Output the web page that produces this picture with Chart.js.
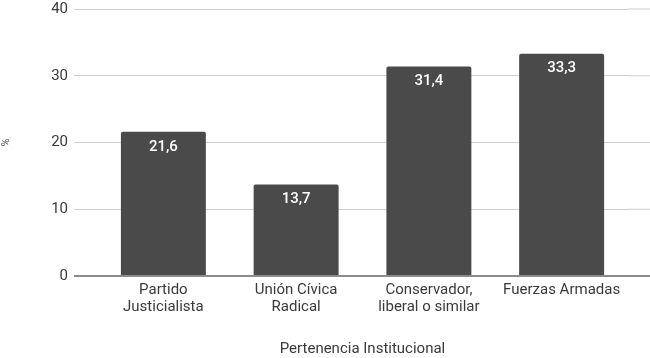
<!DOCTYPE html>
<html>
<head>
<meta charset="utf-8">
<style>
  html, body { margin: 0; padding: 0; background: #fff; }
  #wrap { width: 650px; height: 358px; }
</style>
<script src="https://cdn.jsdelivr.net/npm/chart.js@4/dist/chart.umd.min.js"></script>
</head>
<body>
<div id="wrap"><canvas id="chart"></canvas></div>
<script>
'use strict';

// ─── DATA ────────────────────────────────────────────────────────────────────

const categories = [
  ['Partido', 'Justicialista'],
  ['Unión Cívica', 'Radical'],
  ['Conservador,', 'liberal o similar'],
  ['Fuerzas Armadas'],
];
const values    = [21.6, 13.7, 31.4, 33.3];
const yTicks    = [0, 10, 20, 30, 40];
const xTitle    = 'Pertenencia Institucional';
const yTitle    = '%';

// ─── STYLE ───────────────────────────────────────────────────────────────────

const FONT     = 'Roboto, "Liberation Sans", Arial, sans-serif';
const BAR      = '#4a4a4a';
const GRID     = '#cfcfcf';
const ZERO     = '#8c8c8c';
const TEXT     = '#3a3a3a';

const gridColor = ctx => (ctx.tick && ctx.tick.value === 0 ? ZERO : GRID);
const gridWidth = ctx => (ctx.tick && ctx.tick.value === 0 ? 2 : 1);

// Etiquetas de valor dentro de cada barra
const valueLabels = {
  id: 'valueLabels',
  afterDatasetsDraw(chart) {
    const { ctx } = chart;
    const meta = chart.getDatasetMeta(0);
    ctx.save();
    ctx.fillStyle = '#ffffff';
    ctx.font = `500 15px ${FONT}`;
    ctx.textAlign = 'center';
    ctx.textBaseline = 'middle';
    meta.data.forEach((bar, i) => {
      const txt = values[i].toFixed(1).replace('.', ',');
      ctx.fillText(txt, bar.x, bar.y + 15);
    });
    ctx.restore();
  },
};

// Prolonga as linhas de grade até a borda direita
const gridExtend = {
  id: 'gridExtend',
  beforeDatasetsDraw(chart) {
    const { ctx, chartArea, width } = chart;
    const y = chart.scales.y;
    ctx.save();
    y.ticks.forEach(t => {
      const py = y.getPixelForValue(t.value);
      ctx.strokeStyle = t.value === 0 ? ZERO : GRID;
      ctx.lineWidth = t.value === 0 ? 2 : 1;
      ctx.beginPath();
      ctx.moveTo(chartArea.right, py);
      ctx.lineTo(width, py);
      ctx.stroke();
    });
    ctx.restore();
  },
};

new Chart(document.getElementById('chart'), {
  type: 'bar',
  data: {
    labels: categories,
    datasets: [{
      data:               values,
      backgroundColor:    BAR,
      borderRadius:       2,
      borderSkipped:      'bottom',
      categoryPercentage: 0.8,
      barPercentage:      0.8,
    }],
  },
  options: {
    responsive:          true,
    maintainAspectRatio: false,
    animation:           false,
    layout: { padding: { top: 9, right: 22, left: 0, bottom: 0 } },
    plugins: {
      legend:  { display: false },
      tooltip: { enabled: false },
    },
    scales: {
      x: {
        grid:   { display: false, drawTicks: false, tickLength: 0 },
        border: { display: false },
        ticks: {
          color:       TEXT,
          font:        { family: FONT, size: 15, lineHeight: 1.1 },
          padding:     6,
          maxRotation: 0,
          autoSkip:    false,
        },
        title: {
          display: true,
          text:    xTitle,
          color:   TEXT,
          font:    { family: FONT, size: 15 },
          padding: { top: 0, bottom: 0 },
        },
        afterFit: s => { s.height = 82; },
      },
      y: {
        min: 0,
        max: 40,
        afterBuildTicks: s => { s.ticks = yTicks.map(v => ({ value: v })); },
        grid: {
          color:      gridColor,
          lineWidth:  gridWidth,
          tickLength: 23,
        },
        border: { display: false },
        ticks: {
          color:   TEXT,
          font:    { family: FONT, size: 15 },
          padding: 6,
        },
        title: {
          display: true,
          text:    yTitle,
          color:   '#555',
          font:    { family: FONT, size: 11 },
          padding: 0,
        },
        afterFit: s => {
          s.width = 97;
          s.paddingTop = 0;
          s.paddingBottom = 0;
        },
      },
    },
  },
  plugins: [valueLabels, gridExtend],
});
</script>
</body>
</html>
